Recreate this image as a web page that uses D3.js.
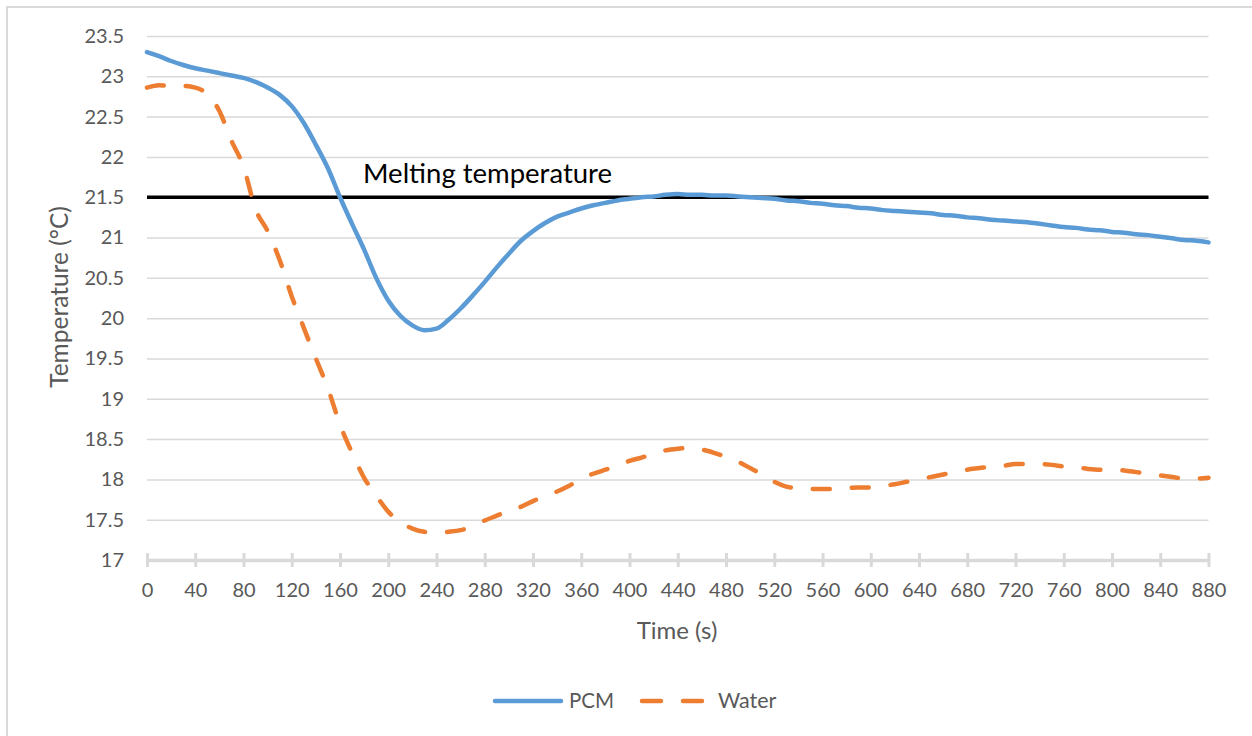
<!DOCTYPE html>
<html>
<head>
<meta charset="utf-8">
<script src="https://cdn.jsdelivr.net/npm/d3@7"></script>
<style>
  html, body { margin: 0; padding: 0; background: #fff; }
  svg { display: block; font-family: Lato, "Open Sans", sans-serif; }
</style>
</head>
<body>
<svg id="chart" width="1252" height="736"></svg>
<script>
// Time stamps (s) for both series
const timeS = [0,10,20,30,40,50,60,70,80,90,100,110,120,130,140,150,160,170,180,190,
  200,210,220,230,240,250,260,270,280,290,300,310,320,330,340,350,360,370,380,390,
  400,410,420,430,440,450,460,470,480,490,500,510,520,530,540,550,560,570,580,590,
  600,610,620,630,640,650,660,670,680,690,700,710,720,730,740,750,760,770,780,790,
  800,810,820,830,840,850,860,870,880];

// PCM temperature (°C)
const pcmTemp = [23.30,23.25,23.19,23.14,23.10,23.07,23.04,23.01,22.98,22.93,
  22.86,22.77,22.63,22.42,22.15,21.86,21.50,21.17,20.85,20.50,
  20.22,20.03,19.91,19.85,19.87,19.98,20.12,20.28,20.45,20.63,
  20.80,20.96,21.08,21.18,21.26,21.31,21.36,21.40,21.43,21.46,
  21.48,21.50,21.51,21.53,21.54,21.53,21.53,21.52,21.52,21.51,
  21.50,21.49,21.48,21.46,21.45,21.43,21.42,21.40,21.39,21.37,
  21.36,21.34,21.33,21.32,21.31,21.30,21.28,21.27,21.25,21.24,
  21.22,21.21,21.20,21.19,21.17,21.15,21.13,21.12,21.10,21.09,
  21.07,21.06,21.04,21.03,21.01,20.99,20.97,20.96,20.94];

// Water temperature (°C)
const waterTemp = [22.86,22.89,22.88,22.88,22.86,22.78,22.57,22.20,21.88,21.35,
  21.08,20.72,20.27,19.88,19.50,19.13,18.68,18.33,18.02,17.80,
  17.60,17.47,17.39,17.35,17.34,17.35,17.37,17.42,17.49,17.55,
  17.61,17.66,17.73,17.80,17.85,17.92,18.01,18.07,18.12,18.17,
  18.23,18.27,18.32,18.36,18.38,18.39,18.37,18.33,18.28,18.22,
  18.14,18.06,17.97,17.91,17.89,17.88,17.88,17.88,17.89,17.90,
  17.90,17.92,17.94,17.97,18.00,18.03,18.06,18.09,18.12,18.14,
  18.16,18.17,18.19,18.19,18.19,18.18,18.16,18.15,18.13,18.12,
  18.12,18.11,18.09,18.07,18.05,18.03,18.01,18.01,18.02];

const meltingTemp = 21.5;
const xTicks = [0,40,80,120,160,200,240,280,320,360,400,440,480,520,560,600,640,680,720,760,800,840,880];
const yTicks = [17,17.5,18,18.5,19,19.5,20,20.5,21,21.5,22,22.5,23,23.5];
const seriesNames = ["PCM", "Water"];

const svg = d3.select("#chart");
const grey = "#595959", gridGrey = "#D9D9D9";
const blue = "#5B9BD5", orange = "#ED7D31";
const dash = "17 22";

// outer chart frame
svg.append("rect")
  .attr("x", 7).attr("y", 7).attr("width", 1300).attr("height", 800)
  .attr("fill", "#fff").attr("stroke", gridGrey).attr("stroke-width", 2);

const x = d3.scaleLinear().domain([0, 880]).range([147, 1208.5]);
const y = d3.scaleLinear().domain([17, 23.5]).range([560, 36]);

// horizontal gridlines + value labels
const yAxis = svg.append("g")
  .attr("transform", `translate(${x(0)},0)`)
  .call(d3.axisLeft(y).tickValues(yTicks).tickFormat(d => String(d))
    .tickSize(-(x(880) - x(0))).tickPadding(23));
yAxis.select(".domain").remove();
yAxis.selectAll(".tick line")
  .attr("stroke", gridGrey).attr("stroke-width", 1.5)
  .attr("display", d => d === 17 ? "none" : null);
yAxis.selectAll(".tick text")
  .attr("fill", grey).attr("font-size", 20).attr("font-family", "Lato, sans-serif");

// time axis
const xAxis = svg.append("g")
  .attr("transform", `translate(0,${y(17)})`)
  .call(d3.axisBottom(x).tickValues(xTicks).tickFormat(d => String(d))
    .tickSizeInner(7).tickSizeOuter(0).tickPadding(16));
xAxis.select(".domain").attr("stroke", gridGrey).attr("stroke-width", 3.5);
xAxis.selectAll(".tick line")
  .attr("stroke", gridGrey).attr("stroke-width", 3).attr("y1", -7);
xAxis.selectAll(".tick text")
  .attr("fill", grey).attr("font-size", 20).attr("font-family", "Lato, sans-serif");

// melting temperature reference
svg.append("line")
  .attr("x1", x(0)).attr("x2", x(880))
  .attr("y1", y(meltingTemp)).attr("y2", y(meltingTemp))
  .attr("stroke", "#000").attr("stroke-width", 3.5);
svg.append("text")
  .attr("x", 363).attr("y", y(meltingTemp) - 14)
  .attr("font-size", 27.5).attr("fill", "#000")
  .text("Melting temperature");

// series lines
const line = (vals) => d3.line()
  .x((d, i) => x(timeS[i]))
  .y(d => y(d))
  .curve(d3.curveMonotoneX)(vals);

svg.append("path")
  .attr("d", line(waterTemp))
  .attr("fill", "none").attr("stroke", orange).attr("stroke-width", 4.5)
  .attr("stroke-linecap", "round").attr("stroke-dasharray", dash);

svg.append("path")
  .attr("d", line(pcmTemp))
  .attr("fill", "none").attr("stroke", blue).attr("stroke-width", 4.5)
  .attr("stroke-linejoin", "round").attr("stroke-linecap", "round");

// axis titles
svg.append("text")
  .attr("x", 677).attr("y", 639)
  .attr("text-anchor", "middle").attr("font-size", 24).attr("fill", grey)
  .text("Time (s)");
svg.append("text")
  .attr("transform", `translate(68,297) rotate(-90)`)
  .attr("text-anchor", "middle").attr("font-size", 24.5).attr("fill", grey)
  .text("Temperature (°C)");

// legend
const legend = svg.append("g");
legend.append("line")
  .attr("x1", 495).attr("x2", 561).attr("y1", 701).attr("y2", 701)
  .attr("stroke", blue).attr("stroke-width", 4.5).attr("stroke-linecap", "round");
legend.append("text")
  .attr("x", 569).attr("y", 708).attr("font-size", 20.5).attr("fill", grey)
  .text(seriesNames[0]);
legend.append("line")
  .attr("x1", 642).attr("x2", 704).attr("y1", 701).attr("y2", 701)
  .attr("stroke", orange).attr("stroke-width", 4.5).attr("stroke-linecap", "round")
  .attr("stroke-dasharray", "19 22");
legend.append("text")
  .attr("x", 718).attr("y", 708).attr("font-size", 21.5).attr("fill", grey)
  .text(seriesNames[1]);
</script>
</body>
</html>
